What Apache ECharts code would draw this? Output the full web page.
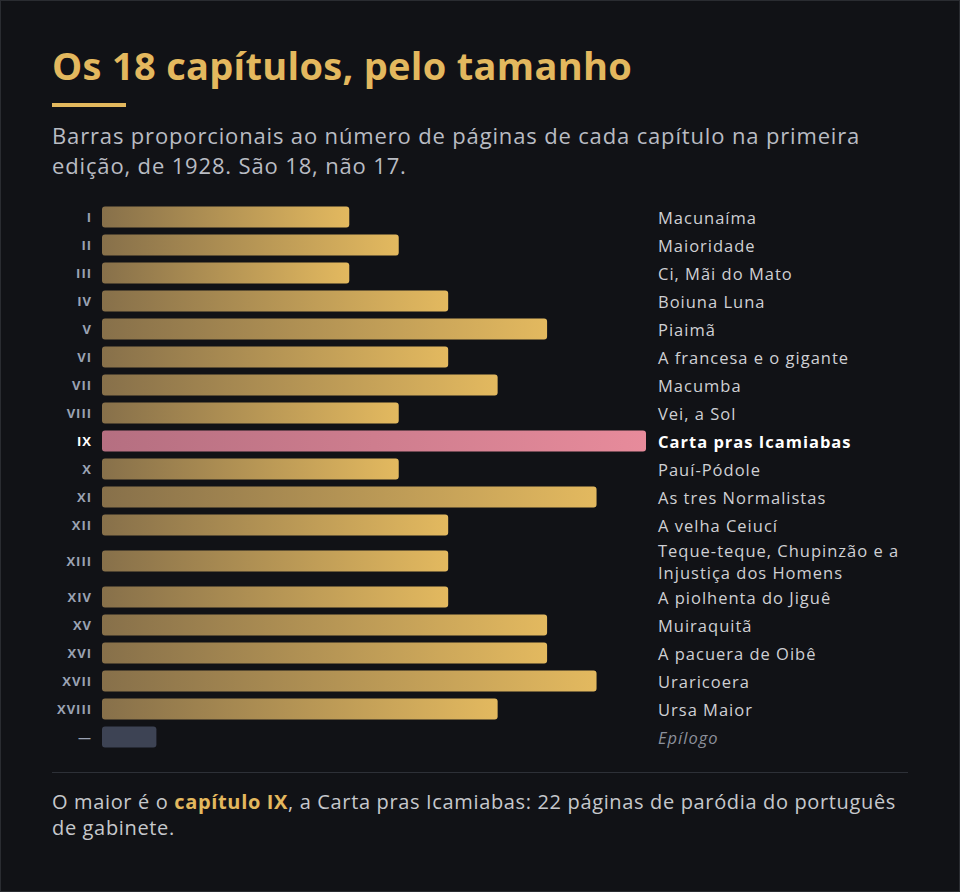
<!DOCTYPE html>
<html lang="pt">
<head>
<meta charset="utf-8">
<title>Os 18 capítulos, pelo tamanho</title>
<script src="https://cdn.jsdelivr.net/npm/echarts@6/dist/echarts.min.js"></script>
<style>
  html, body {
    margin: 0;
    padding: 0;
  }
  body {
    width: 960px;
    height: 892px;
    box-sizing: border-box;
    border: 1px solid #2a2c31;
    background: #111216;
    position: relative;
    overflow: hidden;
    font-family: "Open Sans", "Noto Sans", sans-serif;
  }
  #chart {
    position: absolute;
    left: 0;
    top: 0;
    width: 958px;
    height: 890px;
  }
  /* Montserrat is wider than Open Sans, so open the letters a little */
  #chart text {
    letter-spacing: 1px;
  }
  .title {
    position: absolute;
    left: 51px;
    top: 41px;
    margin: 0;
    font-size: 38px;
    line-height: 46px;
    font-weight: 700;
    letter-spacing: 0.3px;
    color: #e3b85e;
    white-space: nowrap;
  }
  .rule {
    position: absolute;
    left: 51px;
    top: 102px;
    width: 74px;
    height: 4px;
    background: #e3b85e;
  }
  .sub {
    position: absolute;
    left: 51px;
    top: 119px;
    margin: 0;
    font-size: 22px;
    line-height: 30px;
    letter-spacing: 0.85px;
    color: #b9bcc3;
    white-space: nowrap;
  }
  .sep {
    position: absolute;
    left: 51px;
    top: 771px;
    width: 856px;
    height: 1px;
    background: #2d3037;
  }
  .note {
    position: absolute;
    left: 51px;
    top: 788px;
    margin: 0;
    font-size: 20px;
    line-height: 26px;
    letter-spacing: 0.65px;
    color: #c6c8cc;
    white-space: nowrap;
  }
  .note .hl {
    color: #e3b85e;
    font-weight: 700;
  }
</style>
</head>
<body>
<div id="chart"></div>
<h1 class="title">Os 18 capítulos, pelo tamanho</h1>
<div class="rule"></div>
<p class="sub"><span>Barras proporcionais ao número de páginas de cada capítulo na primeira</span><br><span>edição, de 1928. São 18, não 17.</span></p>
<div class="sep"></div>
<p class="note"><span>O maior é o </span><span class="hl">capítulo IX</span><span>, a Carta pras Icamiabas: 22 páginas de paródia do português</span><br><span>de gabinete.</span></p>
<script>
// capítulos (numeral, título, páginas na 1ª edição)
const numerals = ['I', 'II', 'III', 'IV', 'V', 'VI', 'VII', 'VIII', 'IX', 'X',
  'XI', 'XII', 'XIII', 'XIV', 'XV', 'XVI', 'XVII', 'XVIII', '—'];
const titles = ['Macunaíma', 'Maioridade', 'Ci, Mãi do Mato', 'Boiuna Luna', 'Piaimã',
  'A francesa e o gigante', 'Macumba', 'Vei, a Sol', 'Carta pras Icamiabas', 'Pauí-Pódole',
  'As tres Normalistas', 'A velha Ceiucí', 'Teque-teque, Chupinzão e a\nInjustiça dos Homens',
  'A piolhenta do Jiguê', 'Muiraquitã', 'A pacuera de Oibê', 'Uraricoera', 'Ursa Maior', 'Epílogo'];
const pages = [10, 12, 10, 14, 18, 14, 16, 12, 22, 12, 20, 14, 14, 14, 18, 18, 20, 16, 2.2];

const font = '"Open Sans", "Noto Sans", sans-serif';
const maxPages = Math.max(...pages);
const epilogue = numerals.indexOf('—');

// each row is one slot; a title that wraps makes its row a bit taller
const extraLine = 16 / 28;
const rowSize = titles.map(t => 1 + (t.split('\n').length - 1) * extraLine);
const rowCenter = [];
let acc = 0;
rowSize.forEach(s => {
  rowCenter.push(acc + s / 2);
  acc += s;
});
const totalRows = acc;

const gold = new echarts.graphic.LinearGradient(0, 0, 1, 0, [
  {offset: 0, color: '#87704a'},
  {offset: 1, color: '#e3b95f'}
]);
const pink = new echarts.graphic.LinearGradient(0, 0, 1, 0, [
  {offset: 0, color: '#b56f81'},
  {offset: 1, color: '#e78b9b'}
]);

const rows = pages.map((v, i) => [v, rowCenter[i], i]);

function renderRow(params, api) {
  const i = api.value(2);
  const start = api.coord([0, api.value(1)]);
  const end = api.coord([api.value(0), api.value(1)]);
  const labelX = api.coord([maxPages, api.value(1)])[0] + 12;
  const h = 21;
  const isMax = api.value(0) === maxPages;
  const isEpi = i === epilogue;

  let fill = gold;
  if (isMax) fill = pink;
  if (isEpi) fill = '#3d4354';

  let titleFill = '#cfd0d4';
  if (isMax) titleFill = '#ffffff';
  if (isEpi) titleFill = '#8c909b';

  return {
    type: 'group',
    children: [
      {
        type: 'rect',
        shape: {x: start[0], y: start[1] - h / 2, width: end[0] - start[0], height: h, r: 3},
        style: {fill: fill}
      },
      {
        type: 'text',
        x: start[0] - 10,
        y: start[1],
        style: {
          text: numerals[i],
          fill: isMax ? '#ffffff' : '#9aa2b3',
          fontFamily: font,
          fontSize: 13,
          fontWeight: 700,
          align: 'right',
          verticalAlign: 'middle'
        }
      },
      {
        type: 'text',
        x: labelX,
        y: start[1],
        style: {
          text: titles[i],
          fill: titleFill,
          fontFamily: font,
          fontSize: 16.5,
          fontWeight: isMax ? 700 : 400,
          fontStyle: isEpi ? 'italic' : 'normal',
          lineHeight: 22,
          align: 'left',
          verticalAlign: 'middle'
        }
      }
    ]
  };
}

const chart = echarts.init(document.getElementById('chart'), null, {renderer: 'svg'});
const option = {
  animation: false,
  grid: {
    left: 101,
    width: 544,
    top: 202,
    height: totalRows * 28
  },
  xAxis: {
    type: 'value',
    min: 0,
    max: maxPages,
    show: false
  },
  yAxis: {
    type: 'value',
    inverse: true,
    min: 0,
    max: totalRows,
    show: false
  },
  series: [
    {
      type: 'custom',
      renderItem: renderRow,
      encode: {x: 0, y: 1},
      data: rows
    }
  ]
};
chart.setOption(option);
</script>
</body>
</html>
